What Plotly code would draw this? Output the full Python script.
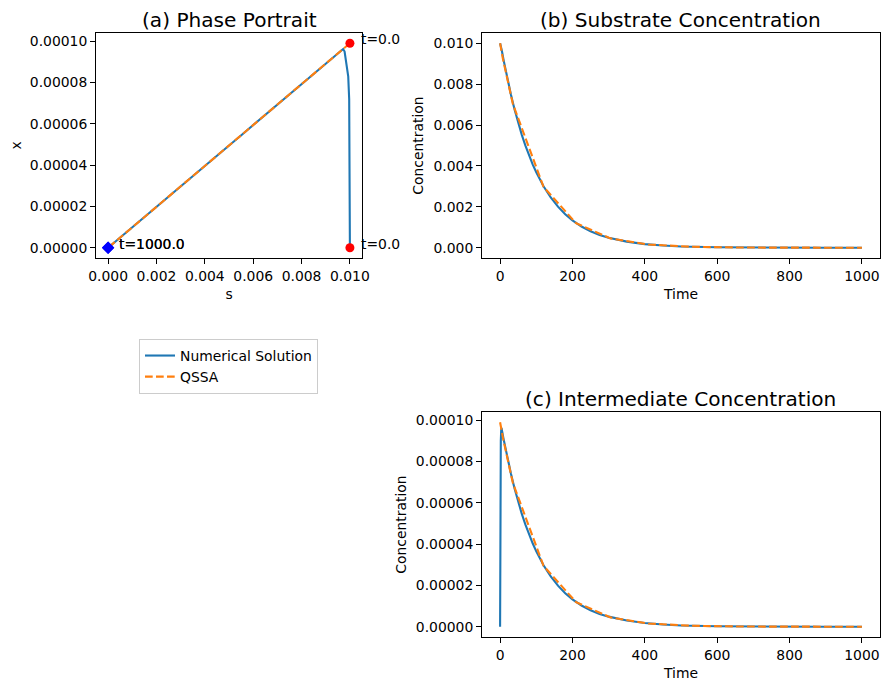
import plotly.graph_objects as go

# ---------------- data ----------------
t_num = [0, 0.3, 0.7, 1.2, 2, 3, 4, 5, 10, 20, 30, 40, 50, 60, 70, 80, 90, 100,
         110, 120, 140, 160, 180, 200, 225, 250, 275, 300, 350, 400, 450, 500,
         600, 700, 800, 900, 1000]
s_num = [0.01000, 0.00998, 0.00997, 0.00993, 0.00986, 0.00978, 0.00972, 0.00962,
         0.00915, 0.00827, 0.00748, 0.00676, 0.00611, 0.00552, 0.00499, 0.00451,
         0.00408, 0.00369, 0.00333, 0.00301, 0.00246, 0.00201, 0.00164, 0.00134,
         0.00104, 0.00081, 0.00063, 0.00049, 0.00030, 0.00018, 0.000108, 0.000065,
         0.000024, 0.0000086, 0.0000031, 0.0000011, 0.0000004]
x_num = [0, 4.0e-5, 7.2e-5, 8.3e-5, 9.0e-5, 9.5e-5, 9.62e-5, 9.52e-5,
         9.06e-5, 8.19e-5, 7.41e-5, 6.69e-5, 6.05e-5, 5.46e-5, 4.94e-5, 4.46e-5,
         4.04e-5, 3.65e-5, 3.30e-5, 2.98e-5, 2.44e-5, 1.99e-5, 1.62e-5, 1.33e-5,
         1.03e-5, 0.80e-5, 0.62e-5, 0.49e-5, 0.30e-5, 0.18e-5, 0.107e-5, 0.064e-5,
         0.024e-5, 0.0085e-5, 0.0031e-5, 0.0011e-5, 0.0004e-5]

t_qssa = [0, 1.5, 8, 35, 120, 210, 305, 410, 530, 670, 830, 1000]
s_qssa = [0.01000, 0.00985, 0.00922, 0.00705, 0.00298, 0.00120, 0.000459,
          0.000160, 0.0000474, 0.0000115, 0.0000023, 0.0000004]
x_qssa = [9.90e-5, 9.75e-5, 9.13e-5, 6.98e-5, 2.95e-5, 1.19e-5, 0.454e-5,
          0.158e-5, 0.047e-5, 0.0114e-5, 0.0023e-5, 0.0004e-5]

titles = ["(a) Phase Portrait", "(b) Substrate Concentration",
          "(c) Intermediate Concentration"]
series_names = ["Numerical Solution", "QSSA"]

# ---------------- styling ----------------
W, H = 889, 690
BLUE = "#1f77b4"
ORANGE = "#ff7f0e"
FONT = "DejaVu Sans"
TICK = 13.9
DASH = "7.7px,3.3px"


def px_dom_x(a, b):
    return [a / W, b / W]


def px_dom_y(top, bottom):
    return [1 - bottom / H, 1 - top / H]


fig = go.Figure()

# (a) phase portrait
fig.add_trace(go.Scatter(x=s_num, y=x_num, mode="lines", name=series_names[0],
                         line=dict(color=BLUE, width=2.1), xaxis="x", yaxis="y",
                         legendgroup="num", showlegend=True))
fig.add_trace(go.Scatter(x=s_qssa, y=x_qssa, mode="lines", name=series_names[1],
                         line=dict(color=ORANGE, width=2.1, dash=DASH), xaxis="x", yaxis="y",
                         legendgroup="qssa", showlegend=True))
# start / end markers
fig.add_trace(go.Scatter(x=[s_num[0], s_qssa[0]], y=[x_num[0], x_qssa[0]], mode="markers",
                         marker=dict(color="red", size=9, symbol="circle"),
                         xaxis="x", yaxis="y", showlegend=False, hoverinfo="skip"))
fig.add_trace(go.Scatter(x=[s_num[-1], s_qssa[-1]], y=[x_num[-1], x_qssa[-1]], mode="markers",
                         marker=dict(color="blue", size=9.5, symbol="diamond"),
                         xaxis="x", yaxis="y", showlegend=False, hoverinfo="skip"))

# (b) substrate
fig.add_trace(go.Scatter(x=t_num, y=s_num, mode="lines", name=series_names[0],
                         line=dict(color=BLUE, width=2.1), xaxis="x2", yaxis="y2",
                         legendgroup="num", showlegend=False))
fig.add_trace(go.Scatter(x=t_qssa, y=s_qssa, mode="lines", name=series_names[1],
                         line=dict(color=ORANGE, width=2.1, dash=DASH), xaxis="x2", yaxis="y2",
                         legendgroup="qssa", showlegend=False))

# (c) intermediate
fig.add_trace(go.Scatter(x=t_num, y=x_num, mode="lines", name=series_names[0],
                         line=dict(color=BLUE, width=2.1), xaxis="x3", yaxis="y3",
                         legendgroup="num", showlegend=False))
fig.add_trace(go.Scatter(x=t_qssa, y=x_qssa, mode="lines", name=series_names[1],
                         line=dict(color=ORANGE, width=2.1, dash=DASH), xaxis="x3", yaxis="y3",
                         legendgroup="qssa", showlegend=False))

axis_common = dict(showline=True, mirror=True, linecolor="black", linewidth=1.1,
                   ticks="outside", ticklen=4.9, tickwidth=1.1, tickcolor="black",
                   showgrid=False, zeroline=False, automargin=False,
                   tickfont=dict(family=FONT, size=TICK, color="black"))
x_axis_common = dict(axis_common, ticklabelstandoff=0)
title_font = dict(family=FONT, size=TICK, color="black")

dom_a_x = px_dom_x(96, 362)
dom_b_x = px_dom_x(482, 880)
dom_top_y = px_dom_y(33, 258)
dom_bot_y = px_dom_y(412, 637)

fig.update_layout(
    width=W, height=H,
    margin=dict(l=0, r=0, t=0, b=0),
    paper_bgcolor="white", plot_bgcolor="white",
    font=dict(family=FONT, size=TICK, color="black"),
    xaxis=dict(domain=dom_a_x, anchor="y", range=[-0.0005, 0.0105], dtick=0.002,
               tick0=0, tickformat=".3f",
               title=dict(text="s", font=title_font, standoff=6), **x_axis_common),
    yaxis=dict(domain=dom_top_y, anchor="x", range=[-4.95e-6, 1.0395e-4], dtick=2e-5,
               tick0=0, tickformat=".5f",
               title=dict(text="x", font=title_font, standoff=4), **axis_common),
    xaxis2=dict(domain=dom_b_x, anchor="y2", range=[-50, 1050], dtick=200, tick0=0,
                title=dict(text="Time", font=title_font, standoff=6), **x_axis_common),
    yaxis2=dict(domain=dom_top_y, anchor="x2", range=[-0.0005, 0.0105], dtick=0.002,
                tick0=0, tickformat=".3f",
                title=dict(text="Concentration", font=title_font, standoff=6), **axis_common),
    xaxis3=dict(domain=dom_b_x, anchor="y3", range=[-50, 1050], dtick=200, tick0=0,
                title=dict(text="Time", font=title_font, standoff=6), **x_axis_common),
    yaxis3=dict(domain=dom_bot_y, anchor="x3", range=[-4.95e-6, 1.0395e-4], dtick=2e-5,
                tick0=0, tickformat=".5f",
                title=dict(text="Concentration", font=title_font, standoff=5), **axis_common),
    legend=dict(x=139 / W, y=1 - 339 / H, xanchor="left", yanchor="top",
                bgcolor="white", bordercolor="#cccccc", borderwidth=1,
                font=dict(family=FONT, size=TICK, color="black"),
                tracegroupgap=0),
    showlegend=True,
)

annotations = []
# subplot titles
for dom_x, dom_y, txt in [(dom_a_x, dom_top_y, titles[0]),
                          (dom_b_x, dom_top_y, titles[1]),
                          (dom_b_x, dom_bot_y, titles[2])]:
    annotations.append(dict(text=txt, xref="paper", yref="paper",
                            x=(dom_x[0] + dom_x[1]) / 2, y=dom_y[1],
                            xanchor="center", yanchor="bottom", yshift=-1,
                            showarrow=False,
                            font=dict(family=FONT, size=20.1, color="black")))

# time labels on the phase portrait (start and end of each trajectory)
for sx, xx, tt in [(s_num[0], x_num[0], t_num[0]), (s_qssa[0], x_qssa[0], t_qssa[0]),
                   (s_num[-1], x_num[-1], t_num[-1]), (s_qssa[-1], x_qssa[-1], t_qssa[-1])]:
    annotations.append(dict(text=f"t={tt:.1f}", xref="x", yref="y", x=sx, y=xx,
                            xanchor="left", yanchor="middle", xshift=9, yshift=4,
                            showarrow=False,
                            font=dict(family=FONT, size=TICK, color="black")))

fig.update_layout(annotations=annotations)

fig.write_html("out.html")
